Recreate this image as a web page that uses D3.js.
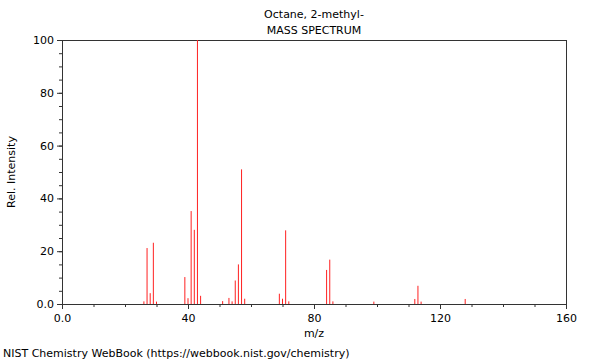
<!DOCTYPE html>
<html>
<head>
<meta charset="utf-8">
<script src="https://cdn.jsdelivr.net/npm/d3@7"></script>
<style>
  body { margin: 0; background: #fff; }
  svg { font-family: "DejaVu Sans", sans-serif; }
</style>
</head>
<body>
<div id="container"></div>
<script>
/* DATA */
const mz = [26, 27, 28, 29, 30, 39, 40, 41, 42, 43, 44, 51, 53, 54, 55, 56, 57, 58,
            69, 70, 71, 72, 84, 85, 86, 99, 112, 113, 114, 128];
const relIntensity = [1.0, 21.2, 4.1, 23.2, 0.9, 10.2, 2.2, 35.2, 28.1, 100, 3.1, 1.1, 2.3, 1.0, 8.9, 15.0, 51.0, 2.0,
            3.9, 2.0, 27.9, 1.0, 12.9, 16.8, 1.0, 0.9, 1.9, 6.9, 0.9, 1.9];
const xTicks = [0, 40, 80, 120, 160];
const xTickLabels = ["0.0", "40", "80", "120", "160"];
const yTicks = [0, 20, 40, 60, 80, 100];
const yTickLabels = ["0.0", "20", "40", "60", "80", "100"];
const xMinor = d3.range(0, 161, 10);
const yMinor = d3.range(0, 101, 5);

/* CONSTANTS */
const width = 600, height = 360;
const plotLeft = 62, plotRight = 566, plotTop = 40, plotBottom = 304;

const svg = d3.select("#container").append("svg")
  .attr("width", width)
  .attr("height", height);

const xScale = d3.scaleLinear().domain([0, 160]).range([plotLeft, plotRight]);
const yScale = d3.scaleLinear().domain([0, 100]).range([plotBottom, plotTop]);

// frame
svg.append("rect")
  .attr("x", plotLeft + 0.5).attr("y", plotTop + 0.5)
  .attr("width", plotRight - plotLeft).attr("height", plotBottom - plotTop)
  .attr("fill", "none").attr("stroke", "#333");

// minor ticks
svg.append("g")
  .attr("transform", `translate(${plotLeft},0)`)
  .call(d3.axisLeft(yScale).tickValues(yMinor).tickSize(3).tickFormat(""))
  .call(g => g.select(".domain").remove())
  .selectAll("line").attr("stroke", "#333");
svg.append("g")
  .attr("transform", `translate(0,${plotBottom})`)
  .call(d3.axisBottom(xScale).tickValues(xMinor).tickSize(3).tickFormat(""))
  .call(g => g.select(".domain").remove())
  .selectAll("line").attr("stroke", "#333");

// major ticks + labels
const yAxis = svg.append("g")
  .attr("transform", `translate(${plotLeft},0)`)
  .call(d3.axisLeft(yScale).tickValues(yTicks).tickSize(5).tickPadding(3)
    .tickFormat((d, i) => yTickLabels[i]));
yAxis.select(".domain").remove();
yAxis.selectAll("line").attr("stroke", "#333");
yAxis.selectAll("text").attr("font-size", 11).attr("fill", "#000")
  .attr("font-family", "DejaVu Sans");

const xAxis = svg.append("g")
  .attr("transform", `translate(0,${plotBottom})`)
  .call(d3.axisBottom(xScale).tickValues(xTicks).tickSize(5).tickPadding(5)
    .tickFormat((d, i) => xTickLabels[i]));
xAxis.select(".domain").remove();
xAxis.selectAll("line").attr("stroke", "#333");
xAxis.selectAll("text").attr("font-size", 11).attr("fill", "#000")
  .attr("font-family", "DejaVu Sans");

// peaks
svg.append("g")
  .selectAll("line")
  .data(mz)
  .join("line")
    .attr("x1", d => xScale(d))
    .attr("x2", d => xScale(d))
    .attr("y1", yScale(0))
    .attr("y2", (d, i) => yScale(relIntensity[i]))
    .attr("stroke", "#ff2020")
    .attr("stroke-width", 1);

// titles
svg.append("text")
  .attr("x", (plotLeft + plotRight) / 2).attr("y", 18)
  .attr("text-anchor", "middle").attr("font-size", 11)
  .text("Octane, 2-methyl-");
svg.append("text")
  .attr("x", (plotLeft + plotRight) / 2).attr("y", 34)
  .attr("text-anchor", "middle").attr("font-size", 11)
  .text("MASS SPECTRUM");

// axis labels
svg.append("text")
  .attr("x", (plotLeft + plotRight) / 2).attr("y", 337)
  .attr("text-anchor", "middle").attr("font-size", 11)
  .text("m/z");
svg.append("text")
  .attr("transform", `translate(15,${(plotTop + plotBottom) / 2}) rotate(-90)`)
  .attr("text-anchor", "middle").attr("font-size", 11)
  .text("Rel. Intensity");

// footer
svg.append("text")
  .attr("x", 3).attr("y", 357)
  .attr("font-size", 11)
  .text("NIST Chemistry WebBook (https://webbook.nist.gov/chemistry)");
</script>
</body>
</html>
